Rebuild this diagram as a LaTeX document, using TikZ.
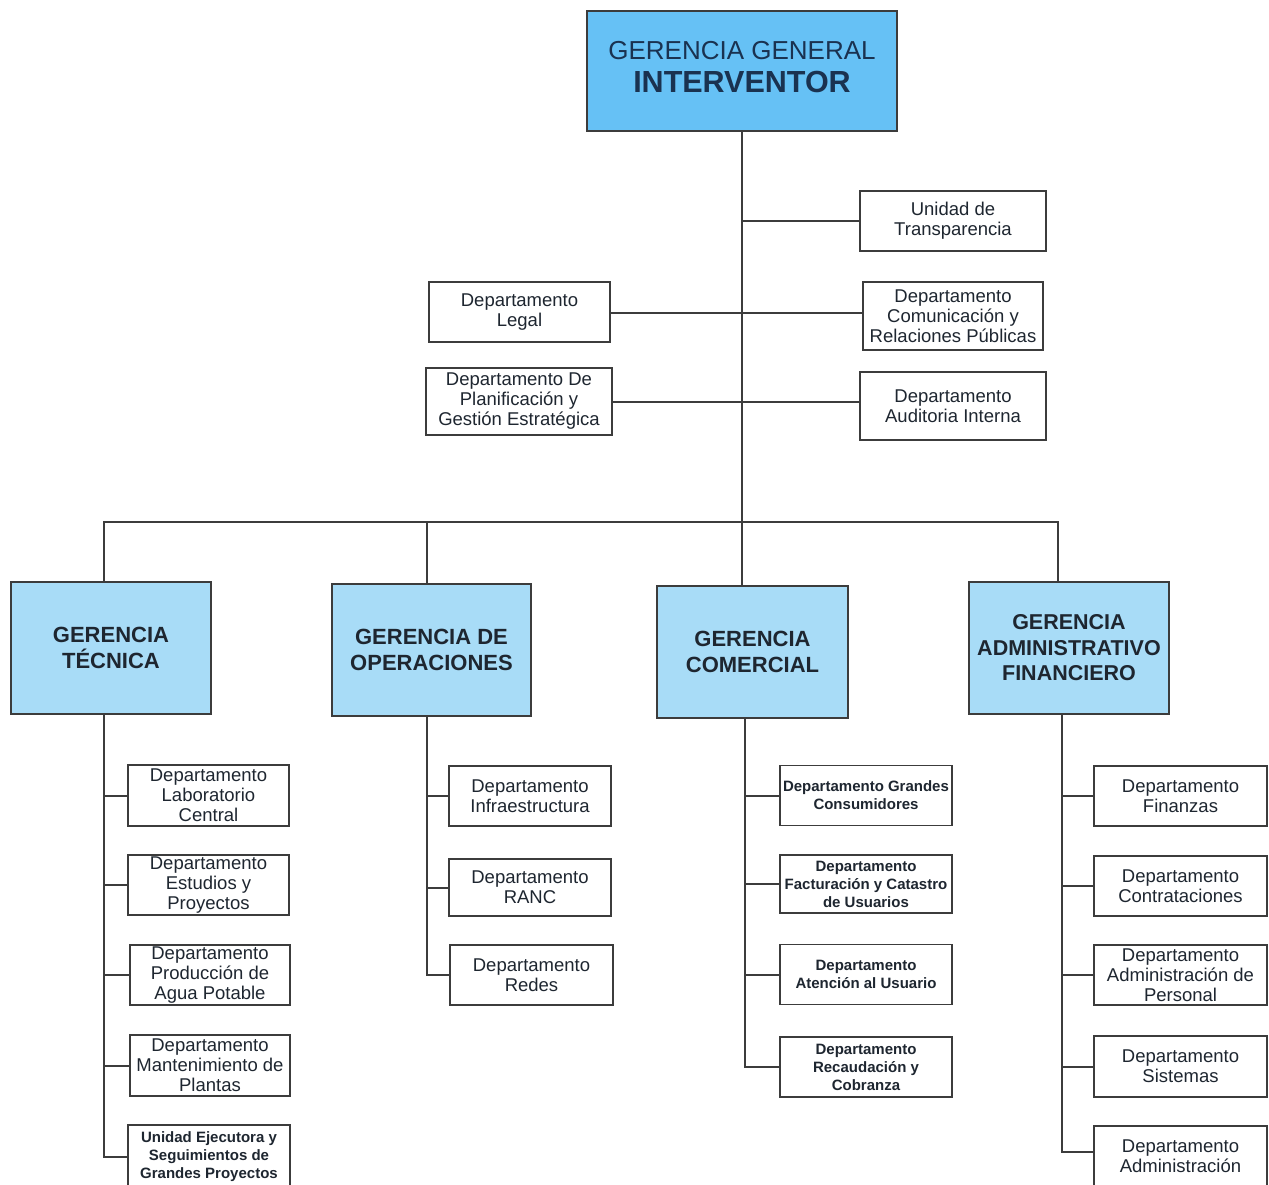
\documentclass[tikz,border=0pt]{standalone}
\usepackage{fontspec}
\setmainfont{Liberation Sans}
\definecolor{topfill}{HTML}{66C1F5}
\definecolor{mgrfill}{HTML}{A8DCF7}
\definecolor{edgegray}{HTML}{3C3C3C}
\definecolor{ink}{HTML}{1E2630}
\definecolor{navy}{HTML}{1A3250}
\tikzset{
  boxbase/.style={draw=edgegray, line width=1.8pt, rectangle, inner sep=0pt, align=center, text=ink},
  topbox/.style={boxbase, fill=topfill, minimum width=310pt, minimum height=120pt},
  mgrbox/.style={boxbase, fill=mgrfill, minimum height=132pt, font=\fontsize{22}{25.5}\selectfont\bfseries},
  deptbox/.style={boxbase, fill=white, minimum height=60pt, font=\fontsize{18.5}{20}\selectfont},
  smallbox/.style={boxbase, fill=white, minimum height=60pt, font=\fontsize{15}{18}\selectfont\bfseries},
  link/.style={draw=edgegray, line width=2pt}
}
\begin{document}
\begin{tikzpicture}[x=1pt, y=-1pt]
\useasboundingbox (0,0) rectangle (1269,1184);
\fill[white] (0,0) rectangle (1269,1184);

% top management
\node[topbox] (gg) at (742,71) {};
\node[align=center, inner sep=0pt, text=navy, font=\fontsize{26}{33}\selectfont] (ggtext) at (742,67.5)
  {GERENCIA GENERAL\\{\fontsize{30.5}{33}\selectfont\bfseries INTERVENTOR}};

% staff units
\node[deptbox, minimum width=186pt] (ut) at (953,221) {Unidad de\\Transparencia};
\node[deptbox, minimum width=181pt] (legal) at (519.5,312) {Departamento\\Legal};
\node[deptbox, minimum width=180pt, minimum height=68pt] (com) at (953,316) {Departamento\\Comunicación y\\Relaciones Públicas};
\node[deptbox, minimum width=186pt, minimum height=67pt] (plan) at (519,401.5) {Departamento De\\Planificación y\\Gestión Estratégica};
\node[deptbox, minimum width=186pt, minimum height=68pt] (aud) at (953,406) {Departamento\\Auditoria Interna};

% managements
\node[mgrbox, minimum width=200pt] (tec) at (111,648) {GERENCIA\\TÉCNICA};
\node[mgrbox, minimum width=199pt] (ope) at (431.5,650) {GERENCIA DE\\OPERACIONES};
\node[mgrbox, minimum width=191pt] (come) at (752.5,652) {GERENCIA\\COMERCIAL};
\node[mgrbox, minimum width=200pt, font=\fontsize{21.5}{25.5}\selectfont\bfseries] (fin) at (1069,648) {GERENCIA\\ADMINISTRATIVO\\FINANCIERO};

% technical departments
\node[deptbox, minimum width=161pt, minimum height=61pt] (t1) at (208.5,795.5) {Departamento\\Laboratorio\\Central};
\node[deptbox, minimum width=161pt] (t2) at (208.5,885) {Departamento\\Estudios y\\Proyectos};
\node[deptbox, minimum width=160pt] (t3) at (210,975) {Departamento\\Producción de\\Agua Potable};
\node[deptbox, minimum width=160pt, minimum height=61pt] (t4) at (210,1065.5) {Departamento\\Mantenimiento de\\Plantas};
\node[smallbox, minimum width=162pt, minimum height=64pt] (t5) at (209,1157) {Unidad Ejecutora y\\Seguimientos de\\Grandes Proyectos};

% operations departments
\node[deptbox, minimum width=162pt] (o1) at (530,796) {Departamento\\Infraestructura};
\node[deptbox, minimum width=162pt, minimum height=57pt] (o2) at (530,887.5) {Departamento\\RANC};
\node[deptbox, minimum width=163pt] (o3) at (531.5,975) {Departamento\\Redes};

% commercial departments
\node[smallbox, minimum width=172pt] (c1) at (866,795.5) {Departamento Grandes\\Consumidores};
\node[smallbox, minimum width=172pt, minimum height=58pt] (c2) at (866,884) {Departamento\\Facturación y Catastro\\de Usuarios};
\node[smallbox, minimum width=172pt] (c3) at (866,974.5) {Departamento\\Atención al Usuario};
\node[smallbox, minimum width=172pt] (c4) at (866,1067) {Departamento\\Recaudación y\\Cobranza};

% administrative and financial departments
\node[deptbox, minimum width=173pt] (f1) at (1180.5,796) {Departamento\\Finanzas};
\node[deptbox, minimum width=173pt] (f2) at (1180.5,886) {Departamento\\Contrataciones};
\node[deptbox, minimum width=173pt] (f3) at (1180.5,975) {Departamento\\Administración de\\Personal};
\node[deptbox, minimum width=173pt, minimum height=61pt] (f4) at (1180.5,1066.5) {Departamento\\Sistemas};
\node[deptbox, minimum width=173pt] (f5) at (1180.5,1156) {Departamento\\Administración};

% main trunk and staff branches
\draw[link] (gg.south) -- (gg.south |- come.north);
\draw[link] (gg.south |- ut.west) -- (ut.west);
\draw[link] ([yshift=-1pt]legal.east) -- ([yshift=-1pt]legal.east -| com.west);
\draw[link] (plan.east) -- (plan.east -| aud.west);

% bus to the managements
\coordinate (bus) at (0,522);
\draw[link] ([xshift=-7pt]tec.north) -- ([xshift=-7pt]tec.north |- bus) -- ([xshift=-11pt]fin.north |- bus) -- ([xshift=-11pt]fin.north);
\draw[link] ([xshift=-4.5pt]ope.north) -- ([xshift=-4.5pt]ope.north |- bus);

% trunks below each management
\coordinate (tecT) at ([xshift=-7pt]tec.south);
\coordinate (opeT) at ([xshift=-4.5pt]ope.south);
\coordinate (comeT) at ([xshift=-7.5pt]come.south);
\coordinate (finT) at ([xshift=-7pt]fin.south);

\draw[link] (tecT) |- (t5.west);
\foreach \n in {t1,t2,t3,t4} \draw[link] (tecT |- \n.west) -- (\n.west);
\draw[link] (opeT) |- (o3.west);
\foreach \n in {o1,o2} \draw[link] (opeT |- \n.west) -- (\n.west);
\draw[link] (comeT) |- (c4.west);
\foreach \n in {c1,c2,c3} \draw[link] (comeT |- \n.west) -- (\n.west);
\draw[link] (finT) |- ([yshift=4pt]f5.west);
\foreach \n in {f1,f2,f3,f4} \draw[link] (finT |- \n.west) -- (\n.west);
\end{tikzpicture}
\end{document}
